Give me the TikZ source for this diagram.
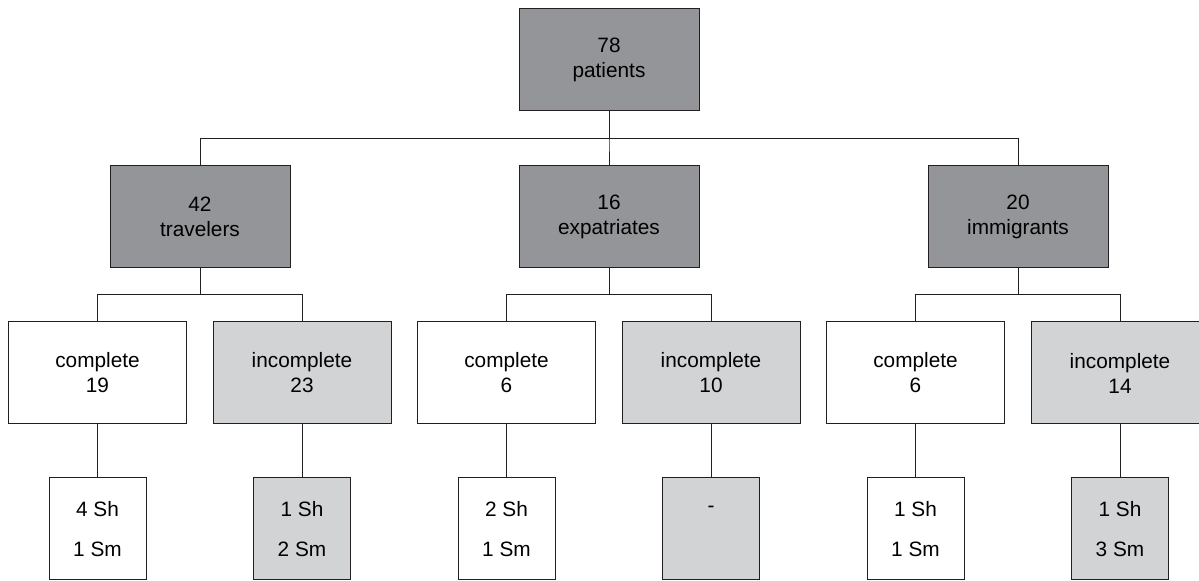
\documentclass[tikz,border=0pt]{standalone}
\usepackage{fontspec}
\setmainfont{Liberation Sans}
\usepackage{xcolor}
\definecolor{boxdark}{HTML}{939598}
\definecolor{boxlight}{HTML}{D1D3D4}
\definecolor{linecol}{HTML}{231F20}

\begin{document}
\begin{tikzpicture}[
    x=0.5pt, y=-0.5pt,
    every node/.style={font=\fontsize{10.4}{12.5}\selectfont, align=center, inner sep=0pt},
    groupbox/.style={
        draw=linecol,
        fill=boxdark,
        line width=0.5pt,
        minimum width=90pt,
        minimum height=51pt
    },
    resultbox/.style={
        draw=linecol,
        line width=0.5pt,
        minimum width=89pt,
        minimum height=51pt
    },
    countbox/.style={
        draw=linecol,
        line width=0.5pt,
        minimum width=48.5pt,
        minimum height=51pt,
        font=\fontsize{10.4}{20}\selectfont
    },
    link/.style={draw=linecol, line width=0.5pt}
]
    % page frame
    \useasboundingbox (0,0) rectangle (1199,581);

    % top and groups
    \node[groupbox] (pat) at (609,60) {78\\patients};
    \node[groupbox] (trav) at (200,216.5) {42\\travelers};
    \node[groupbox] (expa) at (609,216.5) {16\\expatriates};
    \node[groupbox] (immi) at (1018,216.5) {20\\immigrants};

    % complete / incomplete
    \node[resultbox, fill=white] (travc) at (97.5,373) {complete\\19};
    \node[resultbox, fill=boxlight] (travi) at (302,373) {incomplete\\23};
    \node[resultbox, fill=white] (expac) at (506.5,373) {complete\\6};
    \node[resultbox, fill=boxlight] (expai) at (711,373) {incomplete\\10};
    \node[resultbox, fill=white] (immic) at (915.5,373) {complete\\6};
    \node[resultbox, fill=boxlight] (immii) at (1120,373) {incomplete\\14};

    % Sh / Sm counts
    \node[countbox, fill=white] (travcn) at (97.5,529) {4 Sh\\1 Sm};
    \node[countbox, fill=boxlight] (travin) at (302,529) {1 Sh\\2 Sm};
    \node[countbox, fill=white] (expacn) at (506.5,529) {2 Sh\\1 Sm};
    \node[countbox, fill=boxlight] (expain) at (711,529) {-\\\phantom{1 Sm}};
    \node[countbox, fill=white] (immicn) at (915.5,529) {1 Sh\\1 Sm};
    \node[countbox, fill=boxlight] (immiin) at (1120,529) {1 Sh\\3 Sm};

    % tree lines
    \foreach \g in {trav, expa, immi}
        \draw[link] (pat.south) -- ++(0,27) -| (\g.north);
    \foreach \g in {trav, expa, immi} {
        \draw[link] (\g.south) -- ++(0,27) -| (\g c.north);
        \draw[link] (\g.south) -- ++(0,27) -| (\g i.north);
        \draw[link] (\g c.south) -- (\g cn.north);
        \draw[link] (\g i.south) -- (\g in.north);
    }
\end{tikzpicture}
\end{document}
